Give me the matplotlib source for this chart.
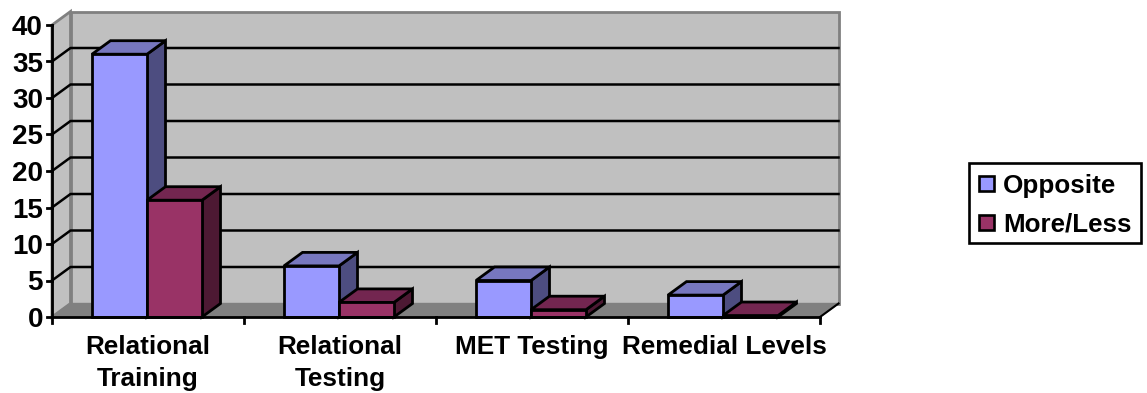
import matplotlib
matplotlib.use('Agg')
from matplotlib import pyplot as plt
from matplotlib.patches import Polygon, Rectangle

categories = ['Relational\nTraining', 'Relational\nTesting', 'MET Testing', 'Remedial Levels']
opposite = [36, 7, 5, 3]
more_less = [16, 2, 1, 0.2]
y_ticks = [0, 5, 10, 15, 20, 25, 30, 35, 40]

W, H = 1147, 393
plt.rcParams['font.family'] = ['Liberation Sans', 'DejaVu Sans']
plt.rcParams['font.weight'] = 'bold'

fig = plt.figure(figsize=(W / 100, H / 100), dpi=100)
# axes is the front plane of the 3d box
x0, x1, y0, y1 = 52, 820, 317, 25
ax = fig.add_axes([x0 / W, 1 - y0 / H, (x1 - x0) / W, (y0 - y1) / H])
ax.set_xlim(0, 4)
ax.set_ylim(0, 40)
ax.axis('off')

# depth of the box in data units
dx = 18.5 / 192
dy = 13.5 / 7.3
bar_w = 55 / 192
gap = 40 / 192
lw = 2


def poly(pts, fc, ec='black', lw=lw, z=2):
    ax.add_patch(Polygon(pts, closed=True, fc=fc, ec=ec, lw=lw, zorder=z, clip_on=False, joinstyle='miter'))


# back wall, side wall, floor
poly([(dx, dy), (4 + dx, dy), (4 + dx, 40 + dy), (dx, 40 + dy)], '#c0c0c0', '#808080', 2, 1)
poly([(0, 0), (dx, dy), (dx, 40 + dy), (0, 40)], '#c0c0c0', '#808080', 2, 1)
poly([(0, 0), (4, 0), (4 + dx, dy), (dx, dy)], '#808080', '#808080', 1, 1)

for t in y_ticks[1:-1]:
    ax.plot([0, dx, 4 + dx], [t, t + dy, t + dy], color='black', lw=1.8, zorder=1.5, clip_on=False)


def bar3d(left, v, front, top, side, z):
    r = left + bar_w
    poly([(r, 0), (r + dx, dy), (r + dx, v + dy), (r, v)], side, z=z)
    poly([(left, v), (r, v), (r + dx, v + dy), (left + dx, v + dy)], top, z=z)
    poly([(left, 0), (r, 0), (r, v), (left, v)], front, z=z)


for i in range(len(categories)):
    left = i + gap
    bar3d(left, opposite[i], '#9999ff', '#7777bf', '#4d4d80', 3 + i)
    bar3d(left + bar_w, more_less[i], '#993366', '#732650', '#4d1933', 3.5 + i)

# axis lines and ticks
ax.plot([0, 0], [0, 40], color='black', lw=2, clip_on=False, zorder=20)
ax.plot([0, 4], [0, 0], color='black', lw=2, clip_on=False, zorder=20)
ax.plot([4, 4 + dx], [0, dy], color='black', lw=1.5, clip_on=False, zorder=1.6)
for t in y_ticks:
    ax.plot([-5 / 192, 0], [t, t], color='black', lw=2, clip_on=False, zorder=20)
    ax.text(-9 / 192, t, str(t), ha='right', va='center_baseline', fontsize=20, fontweight='bold')
for i in range(5):
    ax.plot([i, i], [0, -0.8], color='black', lw=2, clip_on=False, zorder=20)
for i, c in enumerate(categories):
    ax.text(i + 0.5, -2.4, c, ha='center', va='top', fontsize=18.8, fontweight='bold', linespacing=1.45)

# legend drawn in figure pixels
fig.add_artist(Rectangle((969 / W, 1 - 243 / H), 172 / W, 80 / H, transform=fig.transFigure, fc='white', ec='black', lw=1.9))
for y, c, lab in [(183, '#9999ff', 'Opposite'), (222, '#993366', 'More/Less')]:
    fig.add_artist(Rectangle((979 / W, 1 - (y + 7.5) / H), 15 / W, 15 / H, transform=fig.transFigure, fc=c, ec='black', lw=1.9))
    fig.text(1003 / W, 1 - y / H, lab, ha='left', va='center_baseline', fontsize=18.7, fontweight='bold')

fig.savefig('out.png', dpi=100)
